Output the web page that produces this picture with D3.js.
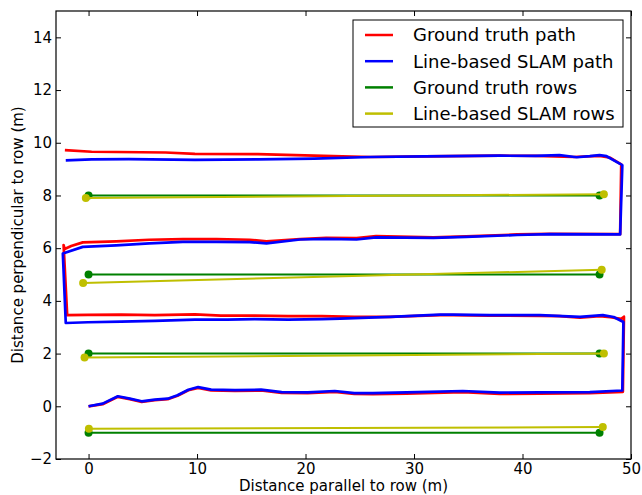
<!DOCTYPE html>
<html lang="en">
<head>
<meta charset="utf-8">
<title>Line-based SLAM vs ground truth</title>
<script src="https://d3js.org/d3.v7.min.js"></script>
<style>
  body { margin: 0; background: #fff; }
  text { font-family: "DejaVu Sans", sans-serif; fill: #000; }
</style>
</head>
<body>
<div id="chart"></div>
<script>
// ground truth path [x, y] in metres
var gtPath = [
  [0,0],[1.3,0.08],[2.7,0.36],[3.8,0.27],[4.9,0.17],[6.1,0.23],[7.3,0.27],[8.2,0.4],[9.2,0.61],
  [10.1,0.7],[11.3,0.6],[13.5,0.58],[15.9,0.6],[17.8,0.51],[20.2,0.5],[22.7,0.55],[24.5,0.47],
  [26.2,0.46],[29.3,0.48],[34.5,0.54],[37.9,0.47],[41.6,0.48],[46.2,0.5],[49.25,0.55],
  [49.35,3.4],[49.1,3.32],[48.1,3.38],[47.1,3.42],[45.3,3.36],[43.4,3.42],[41.6,3.43],[37.0,3.44],
  [33.6,3.46],[32.4,3.46],[27.8,3.39],[24.5,3.39],[21.5,3.42],[18.4,3.42],[15.3,3.44],[12.2,3.44],
  [9.8,3.49],[6.1,3.46],[3.0,3.48],[-0.06,3.47],[-1.97,3.46],
  [-2.3,6.12],[-2.2,5.97],[-1.6,6.08],[-0.53,6.22],[2.55,6.26],[5.6,6.32],[8.7,6.34],[11.8,6.34],
  [14.85,6.32],[16.4,6.26],[19.5,6.34],[21.9,6.39],[24.7,6.38],[26.5,6.46],[31.8,6.41],[34.8,6.45],
  [39.5,6.52],[42.5,6.54],[49.0,6.53],
  [49.1,9.18],[48.1,9.43],[47.1,9.5],[44.7,9.46],[41.2,9.5],[37.9,9.51],[31.0,9.48],[26.0,9.46],
  [20.8,9.51],[15.6,9.57],[9.8,9.58],[7.1,9.63],[0.28,9.66],[-2.18,9.72]
]

// line-based SLAM path
var slamPath = [
  [0,0],[1.3,0.1],[2.7,0.38],[3.8,0.29],[4.9,0.19],[6.1,0.25],[7.3,0.29],[8.2,0.42],[9.2,0.63],
  [10.1,0.73],[11.3,0.63],[13.5,0.61],[15.9,0.63],[17.8,0.54],[20.2,0.53],[22.7,0.58],[24.5,0.5],
  [26.2,0.5],[29.3,0.53],[34.5,0.58],[37.9,0.52],[41.6,0.53],[46.2,0.54],[49.2,0.6],
  [49.3,3.2],[48.4,3.39],[47.4,3.46],[45.3,3.39],[41.6,3.46],[37.0,3.46],[33.6,3.48],[32.4,3.48],
  [27.8,3.39],[23.2,3.33],[21.5,3.31],[18.4,3.29],[15.3,3.31],[12.8,3.29],[9.8,3.29],[6.1,3.24],
  [3.0,3.21],[-0.06,3.19],[-2.1,3.16],
  [-2.37,5.8],[-0.53,6.05],[2.55,6.11],[5.6,6.18],[8.7,6.24],[11.8,6.24],[14.85,6.23],[16.4,6.18],
  [19.5,6.33],[21.9,6.35],[24.7,6.33],[26.5,6.41],[31.8,6.39],[34.8,6.43],[39.5,6.5],[42.5,6.53],
  [49.0,6.52],
  [49.2,9.15],[47.75,9.49],[47.1,9.53],[46.2,9.49],[45.0,9.45],[43.4,9.53],[41.2,9.5],[37.9,9.51],
  [31.0,9.48],[26.0,9.46],[20.8,9.4],[15.6,9.37],[9.8,9.35],[3.7,9.38],[0.28,9.37],[-2.1,9.33]
]

// rows: [x1, y1, x2, y2]
var gtRows = [[0,8,47.1,8],[0,5,47.1,5],[0,2,47.1,2],[0,-1,47.1,-1]]
var slamRows = [[-0.25,7.9,47.5,8.05],[-0.5,4.68,47.3,5.18],[-0.37,1.85,47.5,2.0],[0.03,-0.85,47.4,-0.79]]

var xTicks = [0,10,20,30,40,50]
var yTicks = [-2,0,2,4,6,8,10,12,14]
var legendLabels = ["Ground truth path","Line-based SLAM path","Ground truth rows","Line-based SLAM rows"]
var legendColors = ["#ff0000","#0000ff","#008000","#bfbf00"]

var W = 642, H = 495
var m = {left: 56, top: 11, right: 11, bottom: 36}
var w = W - m.left - m.right
var h = H - m.top - m.bottom

var svg = d3.select("#chart").append("svg")
    .attr("width", W)
    .attr("height", H)

var g = svg.append("g").attr("transform", "translate(" + m.left + "," + m.top + ")")

var x = d3.scaleLinear().domain([-3, 50]).range([0, w])
var y = d3.scaleLinear().domain([-2, 15]).range([h, 0])

var line = d3.line().x(function(d){ return x(d[0]) }).y(function(d){ return y(d[1]) })

g.append("path").datum(gtPath)
    .attr("d", line).attr("fill","none").attr("stroke", legendColors[0])
    .attr("stroke-width", 2.7).attr("stroke-linejoin","round")
g.append("path").datum(slamPath)
    .attr("d", line).attr("fill","none").attr("stroke", legendColors[1])
    .attr("stroke-width", 2.7).attr("stroke-linejoin","round")

function drawRows(rows, col) {
  var rg = g.append("g")
  rg.selectAll("line").data(rows).enter().append("line")
    .attr("x1", function(d){ return x(d[0]) }).attr("y1", function(d){ return y(d[1]) })
    .attr("x2", function(d){ return x(d[2]) }).attr("y2", function(d){ return y(d[3]) })
    .attr("stroke", col).attr("stroke-width", 2)
  var pts = []
  rows.forEach(function(d){ pts.push([d[0], d[1]]); pts.push([d[2], d[3]]) })
  rg.selectAll("circle").data(pts).enter().append("circle")
    .attr("cx", function(d){ return x(d[0]) }).attr("cy", function(d){ return y(d[1]) })
    .attr("r", 4).attr("fill", col)
}
drawRows(gtRows, legendColors[2])
drawRows(slamRows, legendColors[3])

// axes with inward ticks on all sides
var fmt = function(d){ return d < 0 ? "\u2212" + Math.abs(d) : "" + d }
g.append("g").attr("transform","translate(0," + h + ")")
    .call(d3.axisBottom(x).tickValues(xTicks).tickSizeInner(-5).tickSizeOuter(0).tickPadding(4).tickFormat(fmt))
g.append("g")
    .call(d3.axisTop(x).tickValues(xTicks).tickSizeInner(-5).tickSizeOuter(0).tickFormat(""))
g.append("g")
    .call(d3.axisLeft(y).tickValues(yTicks).tickSizeInner(-5).tickSizeOuter(0).tickPadding(4).tickFormat(fmt))
g.append("g").attr("transform","translate(" + w + ",0)")
    .call(d3.axisRight(y).tickValues(yTicks).tickSizeInner(-5).tickSizeOuter(0).tickFormat(""))

g.selectAll(".domain").remove()
g.selectAll(".tick line").attr("stroke","#000").attr("stroke-width",1)
g.selectAll(".tick text").style("font-size","15px").style("font-family","DejaVu Sans")

g.append("rect").attr("width", w).attr("height", h)
    .attr("fill","none").attr("stroke","#000").attr("stroke-width",1.2)

// legend
var lg = svg.append("g").attr("transform","translate(353,20)")
lg.append("rect").attr("width", 270).attr("height", 107)
    .attr("fill","#fff").attr("stroke","#000").attr("stroke-width",1)
legendLabels.forEach(function(t, i){
  var cy = 15 + i * 26.2
  lg.append("line").attr("x1", 12).attr("x2", 40).attr("y1", cy).attr("y2", cy)
    .attr("stroke", legendColors[i]).attr("stroke-width", 2.5)
  lg.append("text").attr("x", 60).attr("y", cy).attr("dy","0.35em")
    .style("font-size","18px").text(t)
})

svg.append("text").attr("x", m.left + w/2).attr("y", 491)
    .attr("text-anchor","middle").style("font-size","15px")
    .text("Distance parallel to row (m)")
svg.append("text").attr("transform","translate(23," + (m.top + h/2) + ") rotate(-90)")
    .attr("text-anchor","middle").style("font-size","15px")
    .text("Distance perpendicular to row (m)")
</script>
</body>
</html>
